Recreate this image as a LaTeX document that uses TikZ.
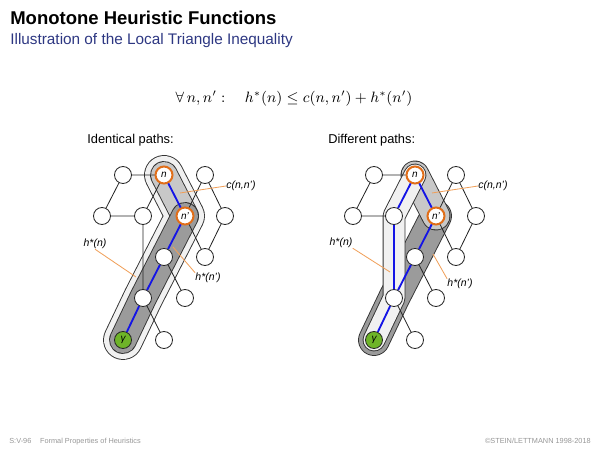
\documentclass[tikz,border=0pt]{standalone}
\usepackage{fontspec}
\setsansfont{Liberation Sans}
\usetikzlibrary{backgrounds}
\definecolor{titleBlue}{RGB}{45, 55, 130}
\definecolor{ringOrange}{RGB}{225, 110, 25}
\definecolor{leaderOrange}{RGB}{240, 160, 90}
\definecolor{goalGreen}{RGB}{110, 180, 40}
\definecolor{pathBlue}{RGB}{20, 20, 230}
\definecolor{blobLight}{RGB}{241, 241, 241}
\definecolor{blobMid}{RGB}{200, 200, 200}
\definecolor{blobDark}{RGB}{155, 155, 155}
\definecolor{footGray}{RGB}{150, 150, 150}

\tikzset{
  vertex/.style={circle, draw=black!85, fill=white, line width=0.5pt, minimum size=10.2pt, inner sep=0pt,
    font=\sffamily\itshape\fontsize{6}{6}\selectfont},
  hvertex/.style={vertex, draw=ringOrange, line width=1.2pt},
  goal/.style={vertex, fill=goalGreen},
  tree/.style={draw=black!85, line width=0.5pt},
  sol/.style={draw=pathBlue, line width=1.1pt},
  leader/.style={draw=leaderOrange, line width=0.5pt},
  blob/.style 2 args={draw=black!80, line width=#2+1.1pt, line cap=round, line join=round,
    postaction={draw=#1, line width=#2}},
  caption/.style={inner sep=0pt, font=\sffamily\fontsize{7.7}{9}\selectfont},
  lbl/.style={inner sep=0pt, font=\sffamily\itshape\fontsize{6.3}{7}\selectfont}
}

\begin{document}
\begin{tikzpicture}[x=0.6pt, y=-0.6pt]
  \useasboundingbox (0,0) rectangle (600,450);
  \node[anchor=base west, inner sep=0pt, font=\sffamily\bfseries\fontsize{11.1}{13}\selectfont] (title) at (10,25) {Monotone Heuristic Functions};
  \node[anchor=base west, inner sep=0pt, text=titleBlue, font=\sffamily\fontsize{9.2}{11}\selectfont] (subtitle) at (10,45) {Illustration of the Local Triangle Inequality};
  \node[anchor=base, inner sep=0pt, font=\fontsize{9.2}{11}\selectfont] (ineq) at (294,103) {$\forall\, n, n' :\quad h^*(n) \leq c(n,n') + h^*(n')$};

  \node[caption, anchor=base west] (lcap) at (87,144) {Identical paths:};
  \node[caption, anchor=base west] (rcap) at (328,144) {Different paths:};

  \node[vertex] (LA) at (123,175) {};
  \node[hvertex] (Ln) at (164,175) {n};
  \node[vertex] (LB) at (205,175) {};
  \node[vertex] (LC) at (102,216) {};
  \node[vertex] (LD) at (143,216) {};
  \node[hvertex] (Lnp) at (185,216) {n'};
  \node[vertex] (LE) at (225,216) {};
  \node[vertex] (LF) at (164,257) {};
  \node[vertex] (LG) at (205,257) {};
  \node[vertex] (LH) at (143,298) {};
  \node[vertex] (LI) at (185,298) {};
  \node[goal] (Lg) at (123,340) {γ};
  \node[vertex] (LJ) at (164,340) {};

  \node[vertex] (RA) at (374,175) {};
  \node[hvertex] (Rn) at (415,175) {n};
  \node[vertex] (RB) at (456,175) {};
  \node[vertex] (RC) at (353,216) {};
  \node[vertex] (RD) at (394,216) {};
  \node[hvertex] (Rnp) at (436,216) {n'};
  \node[vertex] (RE) at (476,216) {};
  \node[vertex] (RF) at (415,257) {};
  \node[vertex] (RG) at (456,257) {};
  \node[vertex] (RH) at (394,298) {};
  \node[vertex] (RI) at (436,298) {};
  \node[goal] (Rg) at (374,340) {γ};
  \node[vertex] (RJ) at (415,340) {};

  \begin{pgfonlayer}{background}
    \draw[blob={blobLight}{22.8pt}] (Ln.center) -- (Lnp.center) -- (LF.center) -- (LH.center) -- (Lg.center);
    \draw[blob={blobMid}{15.6pt}] (Ln.center) -- (Lnp.center);
    \draw[blob={blobDark}{15.6pt}] (Lnp.center) -- (LF.center) -- (LH.center) -- (Lg.center);

    \draw[blob={blobDark}{18pt}] (Rnp.center) -- (RF.center) -- (RH.center) -- (Rg.center);
    \draw[blob={blobMid}{16.2pt}] (Rn.center) -- (Rnp.center);
    \draw[blob={blobLight}{12.6pt}] (Rn.center) -- (RD.center) -- (RH.center) -- (Rg.center);
  \end{pgfonlayer}

  \draw[tree] (LA) -- (Ln) (LA) -- (LC) (LC) -- (LD) (Ln) -- (LD) (LD) -- (LH)
    (LB) -- (Lnp) (LB) -- (LE) (LE) -- (LG) (Lnp) -- (LG) (LF) -- (LI) (LH) -- (LJ);
  \draw[sol] (Ln) -- (Lnp) (Lnp) -- (LF) (LF) -- (LH) (LH) -- (Lg);

  \draw[tree] (RA) -- (Rn) (RA) -- (RC) (RC) -- (RD)
    (RB) -- (Rnp) (RB) -- (RE) (RE) -- (RG) (Rnp) -- (RG) (RF) -- (RI) (RH) -- (RJ);
  \draw[sol] (Rn) -- (Rnp) (Rnp) -- (RF) (RF) -- (RH) (RH) -- (Rg)
    (Rn) -- (RD) (RD) -- (RH);

  \node[lbl, anchor=west] (Lclbl) at (226,186) {c(n,n')};
  \node[lbl] (Lhlbl) at (95,244) {h*(n)};
  \node[lbl] (Lhplbl) at (208,278) {h*(n')};
  \coordinate (Lcpt) at (180,193);
  \coordinate (Lhpt) at (136,277);
  \coordinate (Lhppt) at (173,247);
  \draw[leader] (Lcpt) -- (Lclbl.west);
  \draw[leader] (Lhlbl.south) -- (Lhpt);
  \draw[leader] (Lhppt) -- (Lhplbl.north west);

  \node[lbl, anchor=west] (Rclbl) at (478,186) {c(n,n')};
  \node[lbl] (Rhlbl) at (341,243) {h*(n)};
  \node[lbl] (Rhplbl) at (460,284) {h*(n')};
  \coordinate (Rcpt) at (432,193);
  \coordinate (Rhpt) at (390,272);
  \coordinate (Rhppt) at (433,254);
  \draw[leader] (Rcpt) -- (Rclbl.west);
  \draw[leader] (Rhlbl.south east) -- (Rhpt);
  \draw[leader] (Rhppt) -- (Rhplbl.north west);

  \node[anchor=base west, inner sep=0pt, text=footGray, font=\sffamily\fontsize{4.4}{5}\selectfont] (foot) at (9,444) {S:V-96\hspace{1.2em}Formal Properties of Heuristics};
  \node[anchor=base east, inner sep=0pt, text=footGray, font=\sffamily\fontsize{4.4}{5}\selectfont] (copy) at (591,444) {©STEIN/LETTMANN 1998-2018};
\end{tikzpicture}
\end{document}
